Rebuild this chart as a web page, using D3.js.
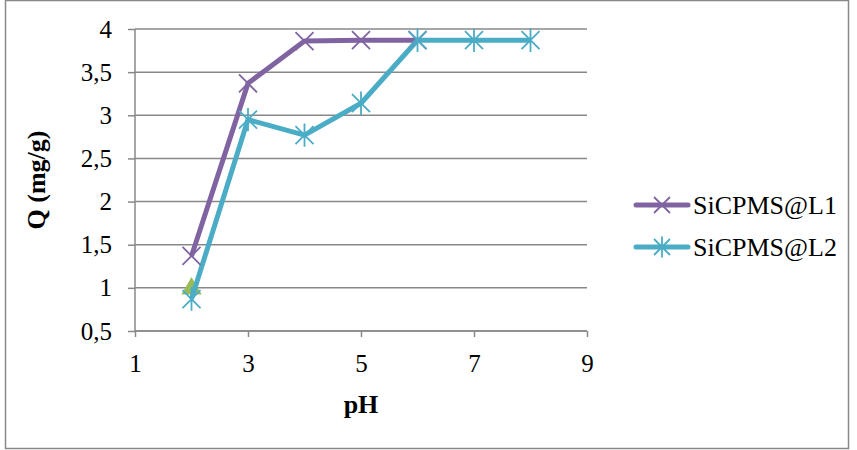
<!DOCTYPE html>
<html>
<head>
<meta charset="utf-8">
<script src="https://cdn.jsdelivr.net/npm/d3@7"></script>
<style>
    body { margin: 0; background: #fff; }
</style>
</head>
<body>
<svg id="chart"></svg>
<script>
const phValues = [2, 3, 4, 5, 6, 7, 8];
const seriesNames = ['SiCPMS@L1', 'SiCPMS@L2'];
const l1Values = [1.37, 3.37, 3.86, 3.87, 3.87, null, null];
const l2Values = [0.87, 2.95, 2.77, 3.14, 3.87, 3.87, 3.87];
const thirdPoint = [2, 0.99];
const xTicks = [1, 3, 5, 7, 9];
const yTicks = [0.5, 1, 1.5, 2, 2.5, 3, 3.5, 4];
const colors = ['#8064a2', '#4bacc6', '#9bbb59'];

const serif = 'Liberation Serif';
const width = 857, height = 450;
const margin = { top: 29, right: 270, bottom: 119, left: 135 };
const svg = d3.select('#chart').attr('width', width).attr('height', height)
    .attr('font-family', serif);

svg.append('rect')
    .attr('x', 5.5).attr('y', 0.5)
    .attr('width', 843).attr('height', 448)
    .attr('fill', 'none').attr('stroke', '#888').attr('stroke-width', 1.5);

const xScale = d3.scaleLinear().domain([1, 9]).range([margin.left, width - margin.right]);
const yScale = d3.scaleLinear().domain([0.5, 4]).range([height - margin.bottom, margin.top]);

// gridlines
svg.append('g')
    .selectAll('line')
    .data(yTicks)
    .join('line')
    .attr('x1', xScale(1)).attr('x2', xScale(9))
    .attr('y1', d => yScale(d)).attr('y2', d => yScale(d))
    .attr('stroke', '#888').attr('stroke-width', 1.5);

const fmt = d => String(d).replace('.', ',');

svg.append('g')
    .attr('transform', `translate(0, ${yScale(0.5)})`)
    .call(d3.axisBottom(xScale).tickValues(xTicks).tickSize(6).tickPadding(17).tickFormat(fmt))
    .attr('font-family', serif).attr('font-size', 25)
    .call(g => g.selectAll('line, path').attr('stroke', '#888').attr('stroke-width', 1.5))
    .call(g => g.select('.domain').attr('d', `M${xScale(1)},0H${xScale(9)}`))
    .call(g => g.selectAll('text').attr('fill', '#000'));

svg.append('g')
    .attr('transform', `translate(${xScale(1)}, 0)`)
    .call(d3.axisLeft(yScale).tickValues(yTicks).tickSize(7).tickPadding(16).tickFormat(fmt))
    .attr('font-family', serif).attr('font-size', 25)
    .call(g => g.selectAll('line, path').attr('stroke', '#888').attr('stroke-width', 1.5))
    .call(g => g.select('.domain').attr('d', `M0,${yScale(0.5)}V${yScale(4)}`))
    .call(g => g.selectAll('text').attr('fill', '#000'));

svg.append('text')
    .attr('x', 361).attr('y', 413)
    .attr('text-anchor', 'middle')
    .attr('font-size', 26).attr('font-weight', 'bold')
    .text('pH');

svg.append('text')
    .attr('transform', 'translate(45, 180) rotate(-90)')
    .attr('text-anchor', 'middle')
    .attr('font-size', 26).attr('font-weight', 'bold')
    .text('Q (mg/g)');

const series = [l1Values, l2Values].map((vals, i) => ({
    name: seriesNames[i],
    color: colors[i],
    points: phValues.map((x, j) => ({ x, y: vals[j] })).filter(d => d.y != null),
}));

const line = d3.line().x(d => xScale(d.x)).y(d => yScale(d.y));

function drawMarker(g, kind, color, s) {
    const p = d3.path();
    p.moveTo(-s, -s); p.lineTo(s, s);
    p.moveTo(-s, s); p.lineTo(s, -s);
    if (kind === 'star') {
        p.moveTo(0, -s * 1.3); p.lineTo(0, s * 1.3);
    }
    g.append('path').attr('d', p.toString())
        .attr('stroke', color).attr('stroke-width', 1.8).attr('fill', 'none');
}

// triangle point (third series, not in legend)
svg.append('path')
    .attr('transform', `translate(${xScale(thirdPoint[0])}, ${yScale(thirdPoint[1])})`)
    .attr('d', d3.symbol(d3.symbolTriangle, 180)())
    .attr('fill', colors[2]);

series.forEach(s => {
    svg.append('path')
        .datum(s.points)
        .attr('d', line)
        .attr('fill', 'none')
        .attr('stroke', s.color)
        .attr('stroke-width', 5)
        .attr('stroke-linejoin', 'round');
});

series.forEach((s, i) => {
    s.points.forEach(d => {
        const g = svg.append('g').attr('transform', `translate(${xScale(d.x)}, ${yScale(d.y)})`);
        drawMarker(g, i === 0 ? 'x' : 'star', s.color, 9);
    });
});

// legend
const legend = svg.append('g').attr('transform', 'translate(636, 205)');
series.forEach((s, i) => {
    const g = legend.append('g').attr('transform', `translate(0, ${i * 42})`);
    g.append('line')
        .attr('x1', 0).attr('x2', 52)
        .attr('stroke', s.color).attr('stroke-width', 5).attr('stroke-linecap', 'round');
    const m = g.append('g').attr('transform', 'translate(26, 0)');
    drawMarker(m, i === 0 ? 'x' : 'star', s.color, 8);
    g.append('text')
        .attr('x', 57).attr('y', 9)
        .attr('font-size', 26)
        .text(s.name);
});
</script>
</body>
</html>
